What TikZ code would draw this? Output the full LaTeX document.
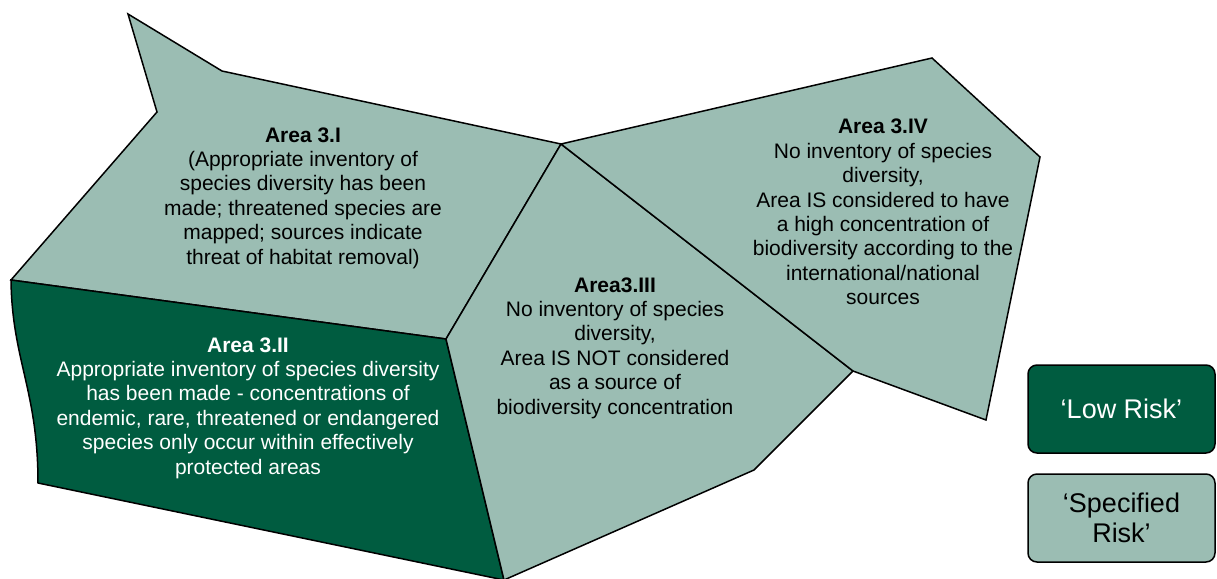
\documentclass[tikz,border=0pt]{standalone}
\usepackage{fontspec}
\setmainfont{Liberation Sans}
\definecolor{specgreen}{RGB}{155,189,179}
\definecolor{lowgreen}{RGB}{0,92,64}
\tikzset{
  area/.style={draw=black,line width=0.75pt,line join=miter},
  arealabel/.style={align=center,font=\fontsize{10.5}{12.2}\selectfont},
  legendbox/.style={draw=black,line width=0.75pt,rounded corners=4.5pt,
    minimum width=93.5pt,minimum height=44pt,align=center,
    font=\fontsize{13.5}{15}\selectfont}
}
\begin{document}
\begin{tikzpicture}[x=0.5pt,y=-0.5pt]
        \useasboundingbox (0,0) rectangle (1217,579);

        % corners of the areas
        \coordinate (tip) at (128,14);
        \coordinate (notch) at (157,112);
        \coordinate (top1) at (222,71);
        \coordinate (west) at (11,280);
        \coordinate (mid) at (561,144);
        \coordinate (knee) at (446,339);
        \coordinate (foot) at (38,483);
        \coordinate (base) at (504,580);
        \coordinate (southeast) at (754,470);
        \coordinate (east) at (853,371);
        \coordinate (top4) at (932,58);
        \coordinate (cape) at (1040,157);
        \coordinate (south4) at (986,420);

        \filldraw[area,fill=specgreen] (tip) -- (top1) -- (mid) -- (knee) -- (west) -- (notch) -- cycle;
        \filldraw[area,fill=lowgreen] (west) -- (knee) -- (base) -- (foot)
            .. controls (38,390) and (12,360) .. (west) -- cycle;
        \filldraw[area,fill=specgreen] (mid) -- (east) -- (southeast) -- (base) -- (knee) -- cycle;
        \filldraw[area,fill=specgreen] (mid) -- (top4) -- (cape) -- (south4) -- (east) -- cycle;

        \node[arealabel] (a1) at (303,198) {\textbf{Area 3.I}\\(Appropriate inventory of\\species diversity has been\\made; threatened species are\\mapped; sources indicate\\threat of habitat removal)};
        \node[arealabel,text=white] (a2) at (248,408) {\textbf{Area 3.II}\\Appropriate inventory of species diversity\\has been made - concentrations of\\endemic, rare, threatened or endangered\\species only occur within effectively\\protected areas};
        \node[arealabel] (a3) at (615,348) {\textbf{Area3.III}\\No inventory of species\\diversity,\\Area IS NOT considered\\as a source of\\biodiversity concentration};
        \node[arealabel] (a4) at (883,212) {\textbf{Area 3.IV}\\No inventory of species\\diversity,\\Area IS considered to have\\a high concentration of\\biodiversity according to the\\international/national\\sources};

        \node[legendbox,fill=lowgreen,text=white] (low) at (1121.5,409) {‘Low Risk’};
        \node[legendbox,fill=specgreen] (spec) at (1121.5,518) {‘Specified\\Risk’};
    \end{tikzpicture}
\end{document}
